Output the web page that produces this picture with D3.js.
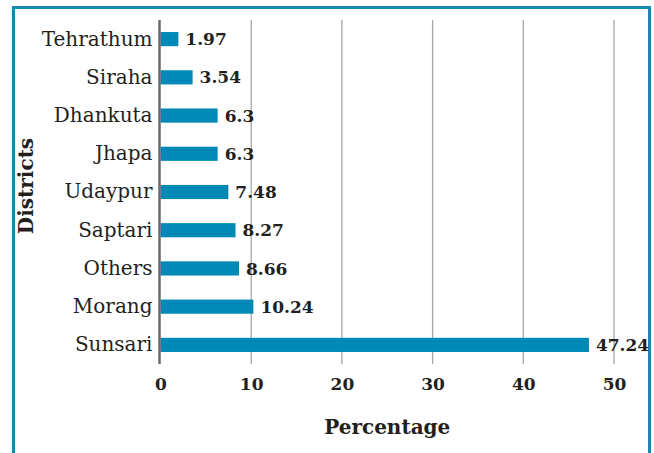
<!DOCTYPE html>
<html>
<head>
<meta charset="utf-8">
<script src="https://cdn.jsdelivr.net/npm/d3@7"></script>
<style>
  body { margin: 0; background: #fff; }
  text { font-family: "DejaVu Serif", serif; fill: #231f20; }
</style>
</head>
<body>
<svg id="chart" width="654" height="453"></svg>
<script>

var districts = ["Tehrathum", "Siraha", "Dhankuta", "Jhapa", "Udaypur",
                 "Saptari", "Others", "Morang", "Sunsari"];
var percentages = [1.97, 3.54, 6.3, 6.3, 7.48, 8.27, 8.66, 10.24, 47.24];
var x_ticks = [0, 10, 20, 30, 40, 50];

var svg = d3.select("#chart");

// blue frame, open at the bottom
svg.append("path")
  .attr("d", "M13.5,460 V7.5 H649.5 V460")
  .attr("fill", "none")
  .attr("stroke", "#1a88b4")
  .attr("stroke-width", 3);

var plot_left = 160.5, plot_right = 614, plot_top = 20, plot_bottom = 364;

var x = d3.scaleLinear().domain([0, 50]).range([plot_left, plot_right]);
var y = d3.scaleBand().domain(districts).range([plot_top, plot_bottom])
          .paddingInner(0.63).paddingOuter(0.315);

// gridlines
svg.append("g").selectAll("line")
  .data(x_ticks.slice(1))
  .enter()
  .append("line")
    .attr("x1", function(d) { return x(d); })
    .attr("x2", function(d) { return x(d); })
    .attr("y1", plot_top)
    .attr("y2", plot_bottom)
    .attr("stroke", "#a6a6a6")
    .attr("stroke-width", 1.3);

// bars
svg.append("g").selectAll("rect")
  .data(percentages)
  .enter()
  .append("rect")
    .attr("x", x(0))
    .attr("y", function(d, i) { return y(districts[i]); })
    .attr("width", function(d) { return x(d) - x(0); })
    .attr("height", y.bandwidth())
    .attr("fill", "#0089b6");

// value labels
svg.append("g").selectAll("text")
  .data(percentages)
  .enter()
  .append("text")
    .attr("x", function(d) { return x(d) + 7; })
    .attr("y", function(d, i) { return y(districts[i]) + y.bandwidth() / 2; })
    .attr("dy", "0.36em")
    .attr("font-size", 17)
    .attr("font-weight", "bold")
    .text(function(d) { return d; });

// y axis (category labels + line)
var yAxis = svg.append("g")
  .attr("transform", "translate(" + (plot_left - 1) + ",0)")
  .call(d3.axisLeft(y).tickSize(0).tickPadding(7));
yAxis.select(".domain").attr("stroke", "#6b6b6b").attr("stroke-width", 2.5)
  .attr("d", "M0," + plot_top + "V" + plot_bottom);
yAxis.selectAll("text")
  .attr("font-size", 20)
  .attr("font-family", "DejaVu Serif")
  .attr("fill", "#231f20");

// x axis tick labels
var xAxis = svg.append("g")
  .attr("transform", "translate(0," + plot_bottom + ")")
  .call(d3.axisBottom(x).tickValues(x_ticks).tickSize(0).tickPadding(14));
xAxis.select(".domain").remove();
xAxis.selectAll("text")
  .attr("font-size", 17)
  .attr("font-weight", "bold")
  .attr("font-family", "DejaVu Serif")
  .attr("fill", "#231f20");

// axis titles
svg.append("text")
  .attr("x", (plot_left + plot_right) / 2)
  .attr("y", 434)
  .attr("text-anchor", "middle")
  .attr("font-size", 20)
  .attr("font-weight", "bold")
  .text("Percentage");

svg.append("text")
  .attr("transform", "translate(33,186) rotate(-90)")
  .attr("text-anchor", "middle")
  .attr("font-size", 20)
  .attr("font-weight", "bold")
  .text("Districts");

</script>
</body>
</html>
